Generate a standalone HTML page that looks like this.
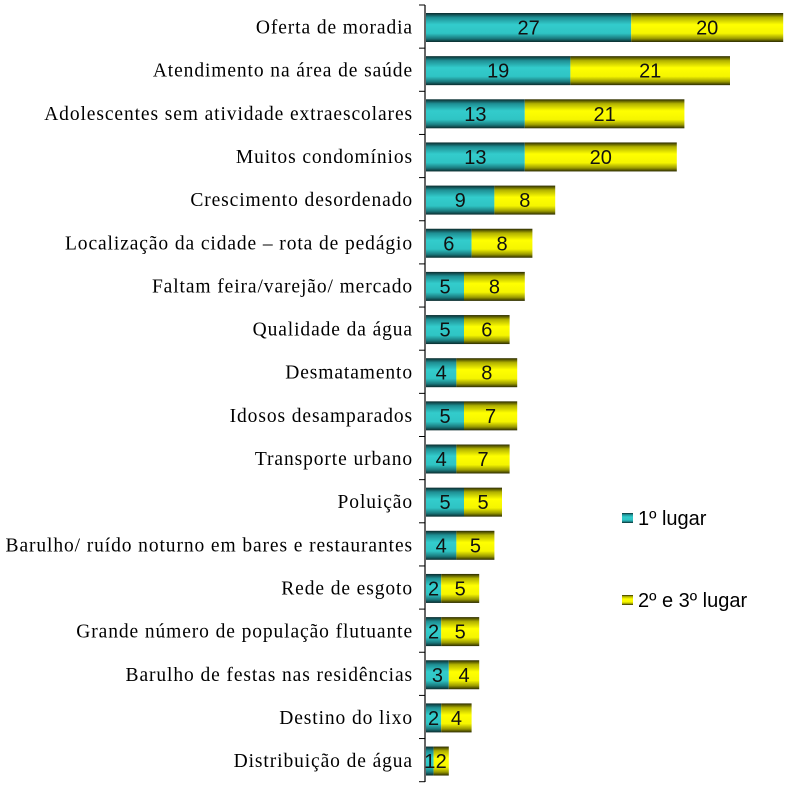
<!DOCTYPE html>
<html><head><meta charset="utf-8"><style>
html,body{margin:0;padding:0;background:#fff;}
svg{display:block;}
</style></head><body>
<svg id="chart" width="800" height="788" xmlns="http://www.w3.org/2000/svg">
<defs>
<linearGradient id="gTeal" x1="0" y1="0" x2="0" y2="1">
<stop offset="0" stop-color="#0a2a2c"/><stop offset="0.15" stop-color="#1e8e93"/><stop offset="0.4" stop-color="#33cccc"/><stop offset="0.7" stop-color="#2fc4c4"/><stop offset="0.88" stop-color="#1a7a7e"/><stop offset="1" stop-color="#0a2a2c"/>
</linearGradient>
<linearGradient id="gYel" x1="0" y1="0" x2="0" y2="1">
<stop offset="0" stop-color="#2a2a00"/><stop offset="0.15" stop-color="#b0b000"/><stop offset="0.4" stop-color="#ffff00"/><stop offset="0.7" stop-color="#f5f500"/><stop offset="0.88" stop-color="#9a9a00"/><stop offset="1" stop-color="#2a2a00"/>
</linearGradient>
</defs>
<g id="plot"></g>
<g>
<rect x="622" y="513" width="11" height="10" fill="url(#gTeal)"/>
<text x="638" y="525" font-family="Liberation Sans, sans-serif" font-size="20" fill="#000">1º lugar</text>
<rect x="622" y="595" width="11" height="10" fill="url(#gYel)"/>
<text x="638" y="607" font-family="Liberation Sans, sans-serif" font-size="20" fill="#000">2º e 3º lugar</text>
</g>
</svg>
<script>
const categories=["Oferta de moradia","Atendimento na área de saúde","Adolescentes sem atividade extraescolares","Muitos condomínios ","Crescimento desordenado","Localização da cidade – rota de pedágio","Faltam feira/varejão/ mercado","Qualidade da água","Desmatamento","Idosos desamparados","Transporte urbano","Poluição ","Barulho/ ruído noturno em bares e restaurantes","Rede de esgoto","Grande número de população flutuante","Barulho de festas nas residências","Destino do lixo ","Distribuição de água"];
const first=[27,19,13,13,9,6,5,5,4,5,4,5,4,2,2,3,2,1];
const second=[20,21,21,20,8,8,8,6,8,7,7,5,5,5,5,4,4,2];
const NS="http://www.w3.org/2000/svg";
const g=document.getElementById('plot');
const x0=426, pxPerUnit=7.6, yTop=5, rowH=43.15, barH=29;
const xs=v=>x0+v*pxPerUnit;
const yc=i=>27.5+i*rowH;
function mk(t,a){const e=document.createElementNS(NS,t);for(const k in a)e.setAttribute(k,a[k]);g.appendChild(e);return e;}
let ax=mk('line',{x1:425,y1:yTop,x2:425,y2:782,stroke:'#000','stroke-width':1.2});


for(let i=0;i<=categories.length;i++){
 const ty=Math.min(yTop+i*rowH,782);
 let t=mk('line',{x1:419,y1:ty,x2:425,y2:ty,stroke:'#000','stroke-width':1});
 
 
}
categories.forEach((c,i)=>{
 const cy=yc(i), y=cy-barH/2;
 let l=mk('text',{x:413,y:cy+6,'text-anchor':'end','font-family':'Liberation Serif, serif','font-size':19.5,'letter-spacing':0.9,fill:'#000'});
 l.textContent=c.trim();
 
 
 let b1=mk('rect',{x:xs(0),y:y,width:xs(first[i])-xs(0),height:barH,fill:'url(#gTeal)'});
 
 
 let b2=mk('rect',{x:xs(first[i]),y:y,width:xs(first[i]+second[i])-xs(first[i]),height:barH,fill:'url(#gYel)'});
 
 
 let v1=mk('text',{x:(xs(0)+xs(first[i]))/2,y:cy+7,'text-anchor':'middle','font-family':'Liberation Sans, sans-serif','font-size':20,fill:'#111'});
 v1.textContent=first[i];
 
 
 let v2=mk('text',{x:(xs(first[i])+xs(first[i]+second[i]))/2,y:cy+7,'text-anchor':'middle','font-family':'Liberation Sans, sans-serif','font-size':20,fill:'#111'});
 v2.textContent=second[i];
 
 
});
</script>
</body></html>
